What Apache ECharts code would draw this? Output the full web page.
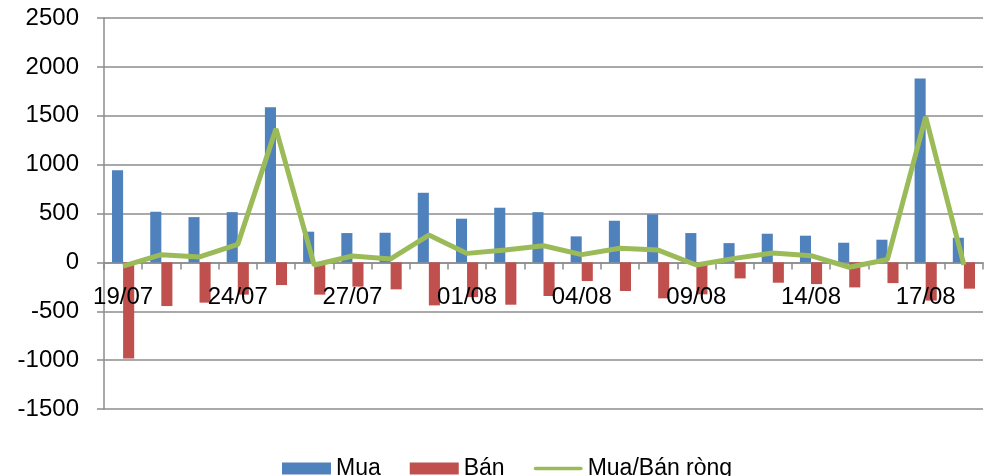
<!DOCTYPE html>
<html>
<head>
<meta charset="utf-8">
<script src="https://cdn.jsdelivr.net/npm/echarts@6/dist/echarts.min.js"></script>
<style>html,body{margin:0;padding:0;background:#fff}#c{width:984px;height:476px}</style>
</head>
<body>
<div id="c"></div>
<script>
var categories = ['19/07','20/07','21/07','24/07','25/07','26/07','27/07','28/07','31/07','01/08','02/08','03/08','04/08','07/08','08/08','09/08','10/08','11/08','14/08','15/08','16/08','17/08','18/08'];
var mua = [943,518,463,514,1587,314,300,303,712,447,559,514,266,426,491,300,197,293,273,201,232,1880,252];
var ban = [-984,-447,-412,-330,-232,-330,-248,-276,-440,-355,-433,-344,-191,-293,-368,-327,-164,-208,-222,-256,-212,-391,-269];
var rong = [-38,79,55,184,1366,-27,65,35,279,92,126,170,79,145,126,-27,41,95,68,-50,30,1489,-25];
var yTicks = {min: -1500, max: 2500, step: 500};

var font = '"Liberation Sans", Arial, sans-serif';
var gridColor = '#8c8c8c';
var chart = echarts.init(document.getElementById('c'));
chart.setOption({
  animation: false,
  grid: {left: 104, right: 1, top: 18, bottom: 67},
  legend: {
    top: 452, left: 277, itemWidth: 49, itemHeight: 12, itemGap: 29,
    textStyle: {fontFamily: font, fontSize: 23, color: '#000'},
    data: [
      {name: 'Mua', icon: 'rect'},
      {name: 'Bán', icon: 'rect'},
      {name: 'Mua/Bán ròng', icon: 'path://M2,0 H52 A2,2 0 0 1 52,4 H2 A2,2 0 0 1 2,0 Z'}
    ]
  },
  xAxis: [{
    type: 'category', data: categories,
    axisLine: {onZero: true, lineStyle: {color: gridColor, width: 1.5}},
    axisTick: {show: true, interval: 0, length: 7, lineStyle: {color: gridColor, width: 1.5}},
    axisLabel: {show: false},
    splitLine: {show: false}
  }, {
    type: 'category', data: categories, position: 'bottom', offset: -146, z: 10,
    axisLine: {show: false, onZero: false},
    axisTick: {show: false},
    axisLabel: {interval: 2, margin: 22, fontFamily: font, fontSize: 24, color: '#000'},
    splitLine: {show: false}
  }],
  yAxis: {
    type: 'value', min: yTicks.min, max: yTicks.max, interval: yTicks.step,
    axisLine: {show: true, lineStyle: {color: gridColor, width: 1.5}},
    axisTick: {show: true, length: 7, lineStyle: {color: gridColor, width: 1.5}},
    axisLabel: {margin: 25, fontFamily: font, fontSize: 24, color: '#000', formatter: function (v) { return String(v); }},
    splitLine: {show: true, lineStyle: {color: gridColor, width: 1.5}}
  },
  series: [
    {name: 'Mua', type: 'bar', data: mua, barGap: '0%', barCategoryGap: '42%', itemStyle: {color: '#4F81BD'}},
    {name: 'Bán', type: 'bar', data: ban, itemStyle: {color: '#C0504D'}},
    {name: 'Mua/Bán ròng', type: 'line', data: rong, symbol: 'none', lineStyle: {color: '#9BBB59', width: 5}, itemStyle: {color: '#9BBB59'}}
  ]
});
</script>
</body>
</html>
